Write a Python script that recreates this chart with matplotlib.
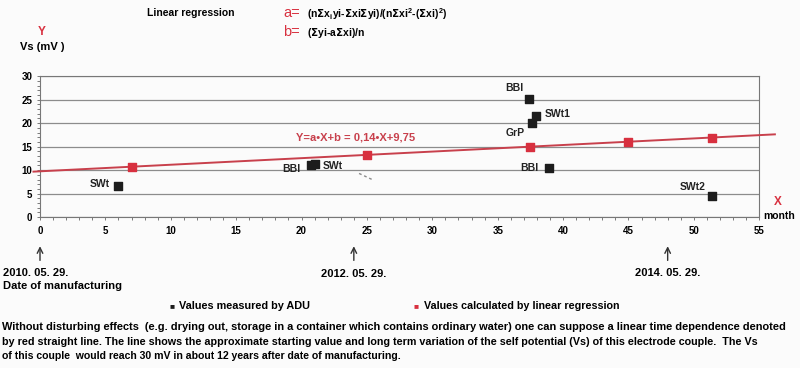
import matplotlib.pyplot as plt
from matplotlib.ticker import MultipleLocator

# measured values (ADU)
meas_x = [6.0, 20.7, 21.0, 37.4, 37.9, 37.6, 38.9, 51.4]
meas_y = [6.6, 11.0, 11.3, 25.1, 21.5, 20.1, 10.4, 4.6]

# values calculated by linear regression
calc_x = [7.0, 25.0, 37.5, 45.0, 51.4]
calc_y = [10.7, 13.2, 14.9, 15.9, 16.8]

# regression line Y = a*X + b
a, b = 0.14, 9.75
line_x = [-0.5, 56.2]

# point labels: (text, x, y)
pt_labels = [("SWt", 3.8, 7.0), ("BBI", 18.5, 10.3), ("SWt", 21.6, 10.8),
             ("BBI", 35.6, 27.4), ("SWt1", 38.6, 22.0), ("GrP", 35.6, 18.0),
             ("BBI", 36.75, 10.5), ("SWt2", 48.9, 6.5)]

# date markers: (month, label)
dates = [(0, "2010. 05. 29."), (24, "2012. 05. 29."), (48, "2014. 05. 29.")]

RED = "#d8303f"
LINE_RED = "#c8404c"
GRID = "#8c8c8c"

plt.rcParams["font.family"] = ["Liberation Sans", "DejaVu Sans"]
plt.rcParams["font.weight"] = "bold"

fig = plt.figure(figsize=(8, 3.68), dpi=100)
fig.patch.set_facecolor("#fbfbfb")
ax = fig.add_axes([0.05, 0.41, 0.899, 0.383])
ax.set_facecolor("#fbfbfb")

ax.set_xlim(0, 55)
ax.set_ylim(0, 30)
ax.xaxis.set_major_locator(MultipleLocator(5))
ax.xaxis.set_minor_locator(MultipleLocator(1))
ax.yaxis.set_major_locator(MultipleLocator(5))
ax.yaxis.set_minor_locator(MultipleLocator(1))
ax.yaxis.grid(True, color=GRID, lw=0.9)
ax.set_axisbelow(True)
ax.tick_params(axis="both", which="both", labelsize=7, color="#666666",
               length=2.5, width=0.6, pad=3)
ax.tick_params(axis="x", which="major", pad=4)
for sp in ax.spines.values():
    sp.set_color("#777777")
    sp.set_linewidth(0.8)

# regression line extends a bit beyond the box
ax.plot(line_x, [a * v + b for v in line_x], color=LINE_RED, lw=1.4,
        clip_on=False, zorder=3)
ax.scatter(calc_x, calc_y, marker="s", s=38, color=RED, zorder=4)
ax.scatter(meas_x, meas_y, marker="s", s=32, color="#1c1c1c", zorder=4)

# scan artefact near the line
ax.plot([24.4, 25.4], [9.3, 8.0], color="#8a8a8a", lw=1.0, ls=(0, (2, 2)))

for txt, x, y in pt_labels:
    ax.text(x, y, txt, fontsize=7.5, color="#222222", ha="left", va="center")

ax.text(19.6, 16.9, "Y=a\u2022X+b = 0,14\u2022X+9,75", color=LINE_RED,
        fontsize=8, ha="left", va="center")

# date arrows under the x axis
for m, lab in dates:
    ax.annotate("", xy=(m, -5.6), xytext=(m, -9.8), xycoords="data",
                annotation_clip=False,
                arrowprops=dict(arrowstyle="->", color="#333333", lw=1.0))
ax.text(-2.8, -12.0, dates[0][1], fontsize=8, va="center", ha="left")
ax.text(-2.8, -14.6, "Date of manufacturing", fontsize=8, va="center", ha="left")
ax.text(dates[1][0], -12.1, dates[1][1], fontsize=8, va="center", ha="center")
ax.text(dates[2][0], -11.9, dates[2][1], fontsize=8, va="center", ha="center")

# axis titles
fig.text(0.052, 0.912, "Y", color=RED, fontsize=8.5, ha="center", va="center")
fig.text(0.025, 0.872, "Vs (mV )", fontsize=8, ha="left", va="center")
fig.text(0.972, 0.452, "X", color=RED, fontsize=8.5, ha="center", va="center")
fig.text(0.974, 0.413, "month", fontsize=7.5, ha="center", va="center")

# header formulas
fig.text(0.184, 0.965, "Linear regression", fontsize=7.5, ha="left", va="center")
fig.text(0.354, 0.965, "a=", color=RED, fontsize=10.5, ha="left", va="center",
         fontweight="normal")
fig.text(0.384, 0.963, r"(n$\Sigma$x$_\mathregular{i}$yi-$\Sigma$xi$\Sigma$yi)/(n$\Sigma$xi$^\mathregular{2}$-($\Sigma$xi)$^\mathregular{2}$)",
         fontsize=7.5, ha="left", va="center")
fig.text(0.354, 0.913, "b=", color=RED, fontsize=10.5, ha="left", va="center",
         fontweight="normal")
fig.text(0.384, 0.911, r"($\Sigma$yi-a$\Sigma$xi)/n", fontsize=7.5,
         ha="left", va="center")

# legend + note: the scan uses a narrow font, so fit each line to its width
fitted = []
fig.text(0.212, 0.168, "\u25a0", color="#1c1c1c", fontsize=6, ha="left", va="center")
t = fig.text(0.224, 0.168, "Values measured by ADU", fontsize=8, ha="left", va="center")
fitted.append((t, 132))
fig.text(0.517, 0.168, "\u25a0", color=RED, fontsize=6, ha="left", va="center")
t = fig.text(0.530, 0.168, "Values calculated by linear regression", fontsize=8,
             ha="left", va="center")
fitted.append((t, 196))

para = ["Without disturbing effects  (e.g. drying out, storage in a container which contains ordinary water) one can suppose a linear time dependence denoted",
        "by red straight line. The line shows the approximate starting value and long term variation of the self potential (Vs) of this electrode couple.  The Vs",
        "of this couple  would reach 30 mV in about 12 years after date of manufacturing."]
para_w = [783, 762, 402]
for i, line in enumerate(para):
    t = fig.text(0.003, 0.112 - i * 0.04, line, fontsize=8, ha="left", va="center")
    fitted.append((t, para_w[i]))

r = fig.canvas.get_renderer()
for t, w in fitted:
    cur = t.get_window_extent(renderer=r).width
    t.set_fontsize(8 * w / cur)

fig.savefig("out.png", dpi=100, facecolor=fig.get_facecolor())
